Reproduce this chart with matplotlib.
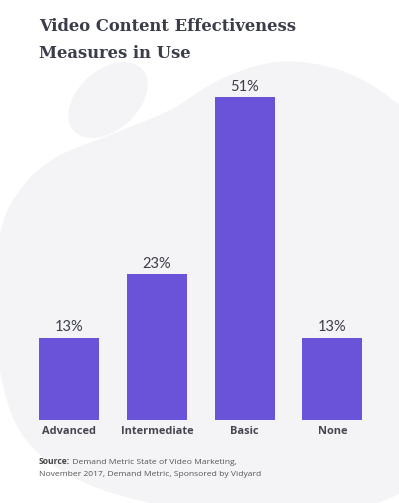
import matplotlib
matplotlib.use("Agg")
import matplotlib.pyplot as plt
import numpy as np
from matplotlib.patches import Ellipse, Polygon

# ---- data ----
categories = ["Advanced", "Intermediate", "Basic", "None"]
values = [13, 23, 51, 13]
title_lines = ["Video Content Effectiveness", "Measures in Use"]
source_bold = "Source:"
source_rest = " Demand Metric State of Video Marketing,"
source_line2 = "November 2017, Demand Metric, Sponsored by Vidyard"

W, H = 399, 503
bar_color = "#6a53d8"
text_color = "#3b3d4a"
blob_color = "#f4f4f7"

# outline of the decorative background blob (pixel coords, y down)
blob_pts = np.array([
    (0, 235), (20, 190), (55, 158), (110, 135), (170, 110), (215, 82),
    (260, 65), (300, 62), (345, 72), (390, 98), (425, 140), (430, 300),
    (418, 470), (397, 495), (330, 512), (200, 512), (150, 503), (90, 485),
    (40, 455), (10, 410), (-5, 330),
], dtype=float)


def smooth_closed(pts, n=20):
    # catmull-rom through the outline points
    out = []
    k = len(pts)
    for i in range(k):
        p0, p1, p2, p3 = pts[i - 1], pts[i], pts[(i + 1) % k], pts[(i + 2) % k]
        for t in np.linspace(0, 1, n, endpoint=False):
            t2, t3 = t * t, t * t * t
            out.append(0.5 * ((2 * p1) + (-p0 + p2) * t
                              + (2 * p0 - 5 * p1 + 4 * p2 - p3) * t2
                              + (-p0 + 3 * p1 - 3 * p2 + p3) * t3))
    return np.array(out)


fig = plt.figure(figsize=(W / 100, H / 100), dpi=100)
fig.patch.set_facecolor("white")

bg = fig.add_axes([0, 0, 1, 1])
bg.set_xlim(0, W)
bg.set_ylim(H, 0)
bg.axis("off")
bg.add_patch(Polygon(smooth_closed(blob_pts), closed=True, color=blob_color, lw=0))
bg.add_patch(Ellipse((108, 100), 92, 60, angle=-42, color=blob_color, lw=0))


def fx(x):
    return x / W


def fy(y):
    return 1 - y / H


# bars
ax = fig.add_axes([fx(25.2), fy(420), 351 / W, 380 / H])
ax.patch.set_alpha(0)
x = range(len(categories))
bars = ax.bar(x, values, width=0.684, color=bar_color)
ax.set_xlim(-0.5, 3.5)
ax.set_ylim(0, 60)
for s in ax.spines.values():
    s.set_visible(False)
ax.set_yticks([])
ax.set_xticks(list(x))
ax.set_xticklabels(categories, fontsize=7.9, fontweight="bold",
                   color="#44454f", family="Open Sans")
ax.tick_params(axis="x", length=0, pad=4.5)
for b, v in zip(bars, values):
    ax.annotate(f"{v}%", (b.get_x() + b.get_width() / 2, v),
                xytext=(0, 2.5), textcoords="offset points",
                ha="center", va="bottom", fontsize=10.5,
                color=text_color, family="Lato")

# title
for line, base in zip(title_lines, [31, 58]):
    fig.text(fx(39), fy(base), line, fontsize=11.8, fontweight="bold",
             family="DejaVu Serif", color=text_color, va="baseline")

# source
t = fig.text(fx(39), fy(464), source_bold, fontsize=6.1, fontweight="bold",
             color="#444", family="Open Sans", va="baseline")
fig.canvas.draw()
bb = t.get_window_extent()
fig.text(bb.x1 / W, fy(464), source_rest, fontsize=6.1, color="#555",
         family="Open Sans", va="baseline")
fig.text(fx(39), fy(475.5), source_line2, fontsize=6.1, color="#555",
         family="Open Sans", va="baseline")

fig.savefig("out.png", dpi=100)
